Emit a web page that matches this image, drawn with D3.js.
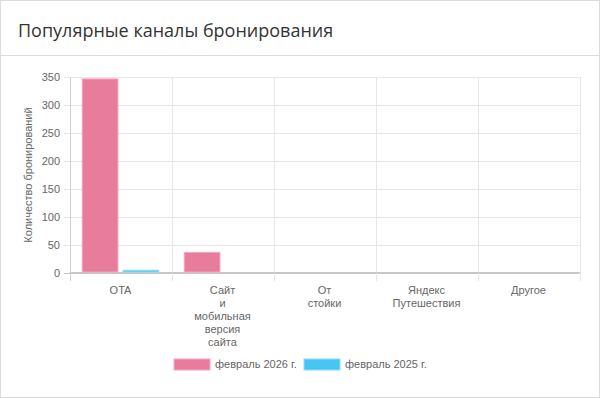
<!DOCTYPE html>
<html>
<head>
<meta charset="utf-8">
<script src="https://cdnjs.cloudflare.com/ajax/libs/d3/7.8.5/d3.min.js"></script>
<style>
  body { margin: 0; background: #fff; }
  .card { position: absolute; left: 0; top: 0; width: 598px; height: 396px; border: 1px solid #dcdcdc; }
  .card h3 { margin: 0; height: 54px; line-height: 58px; padding-left: 17px; border-bottom: 1px solid #dcdcdc;
    font-family: "Open Sans", sans-serif; font-weight: 400; font-size: 18px; color: #333; }
  svg { position: absolute; left: 0; top: 0; }
  text { font-family: "Liberation Sans", Arial, sans-serif; fill: #666; }
</style>
</head>
<body>
<div class="card"><h3>Популярные каналы бронирования</h3></div>
<script>
var categories = [['OTA'], ['Сайт', 'и', 'мобильная', 'версия', 'сайта'], ['От', 'стойки'], ['Яндекс', 'Путешествия'], ['Другое']];
var seriesNames = ['февраль 2026 г.', 'февраль 2025 г.'];
var values2026 = [348, 37, 0, 0, 0];
var values2025 = [5, 0, 0, 0, 0];
var yTicks = [0, 50, 100, 150, 200, 250, 300, 350];
var colors = ['#e77c9c', '#47c6f4'];
var borders = ['#f3a6bf', '#8ddcf8'];

var svg = d3.select('body').append('svg').attr('width', 600).attr('height', 398);

var x = d3.scaleBand().domain(d3.range(categories.length)).range([69.5, 579.5]);
var y = d3.scaleLinear().domain([0, 350]).range([272.5, 77.3]);
// grouped bars: 80% of the category, each bar 90% of its slot
var inner = d3.scaleBand().domain([0, 1]).range([x.bandwidth() * 0.1, x.bandwidth() * 0.9]);

var g = svg.append('g');

// horizontal grid
g.selectAll('.hgrid').data(yTicks).enter().append('line')
  .attr('x1', 64).attr('x2', 579.5)
  .attr('y1', function(d) { return Math.round(y(d)) + 0.5; })
  .attr('y2', function(d) { return Math.round(y(d)) + 0.5; })
  .attr('stroke', function(d) { return d === 0 ? '#c8c8c8' : '#e6e6e6'; });

// vertical grid
var bounds = d3.range(categories.length + 1).map(function(i) { return 69.5 + i * x.bandwidth(); });
g.selectAll('.vgrid').data(bounds).enter().append('line')
  .attr('x1', function(d) { return Math.round(d) + 0.5; })
  .attr('x2', function(d) { return Math.round(d) + 0.5; })
  .attr('y1', 77).attr('y2', 281)
  .attr('stroke', function(d, i) { return i === 0 ? '#d0d0d0' : '#e6e6e6'; });
g.append('line').attr('x1', 69.5).attr('x2', 580).attr('y1', 272.5).attr('y2', 272.5).attr('stroke', '#c8c8c8');

// y ticks
g.selectAll('.ytick').data(yTicks).enter().append('text')
  .attr('x', 60).attr('y', function(d) { return y(d) + 4; })
  .attr('text-anchor', 'end').attr('font-size', 11)
  .text(function(d) { return d; });

g.append('text')
  .attr('transform', 'translate(32,175) rotate(-90)')
  .attr('text-anchor', 'middle').attr('font-size', 11)
  .text('Количество бронирований');

// bars
var series = [values2026, values2025];
series.forEach(function(vals, s) {
  g.selectAll('.bar' + s).data(vals).enter().append('rect')
    .attr('x', function(d, i) { return x(i) + inner(s) + inner.bandwidth() * 0.05 + 0.5; })
    .attr('width', inner.bandwidth() * 0.9 - 1)
    .attr('y', function(d) { return y(d) + 0.5; })
    .attr('height', function(d) { return Math.max(0, y(0) - y(d) - 1); })
    .attr('fill', colors[s])
    .attr('stroke', borders[s])
    .attr('stroke-width', function(d) { return d > 0 ? 1 : 0; });
});

// x labels
categories.forEach(function(lines, i) {
  var t = g.append('text').attr('text-anchor', 'middle').attr('font-size', 11);
  lines.forEach(function(l, k) {
    t.append('tspan').attr('x', x(i) + x.bandwidth() / 2).attr('y', 294 + k * 13).text(l);
  });
});

// legend
var legX = [174, 304];
seriesNames.forEach(function(n, s) {
  g.append('rect').attr('x', legX[s]).attr('y', 359).attr('width', 36).attr('height', 11)
    .attr('fill', colors[s]).attr('stroke', borders[s]);
  g.append('text').attr('x', legX[s] + 41).attr('y', 368).attr('font-size', 11).text(n);
});
</script>
</body>
</html>
